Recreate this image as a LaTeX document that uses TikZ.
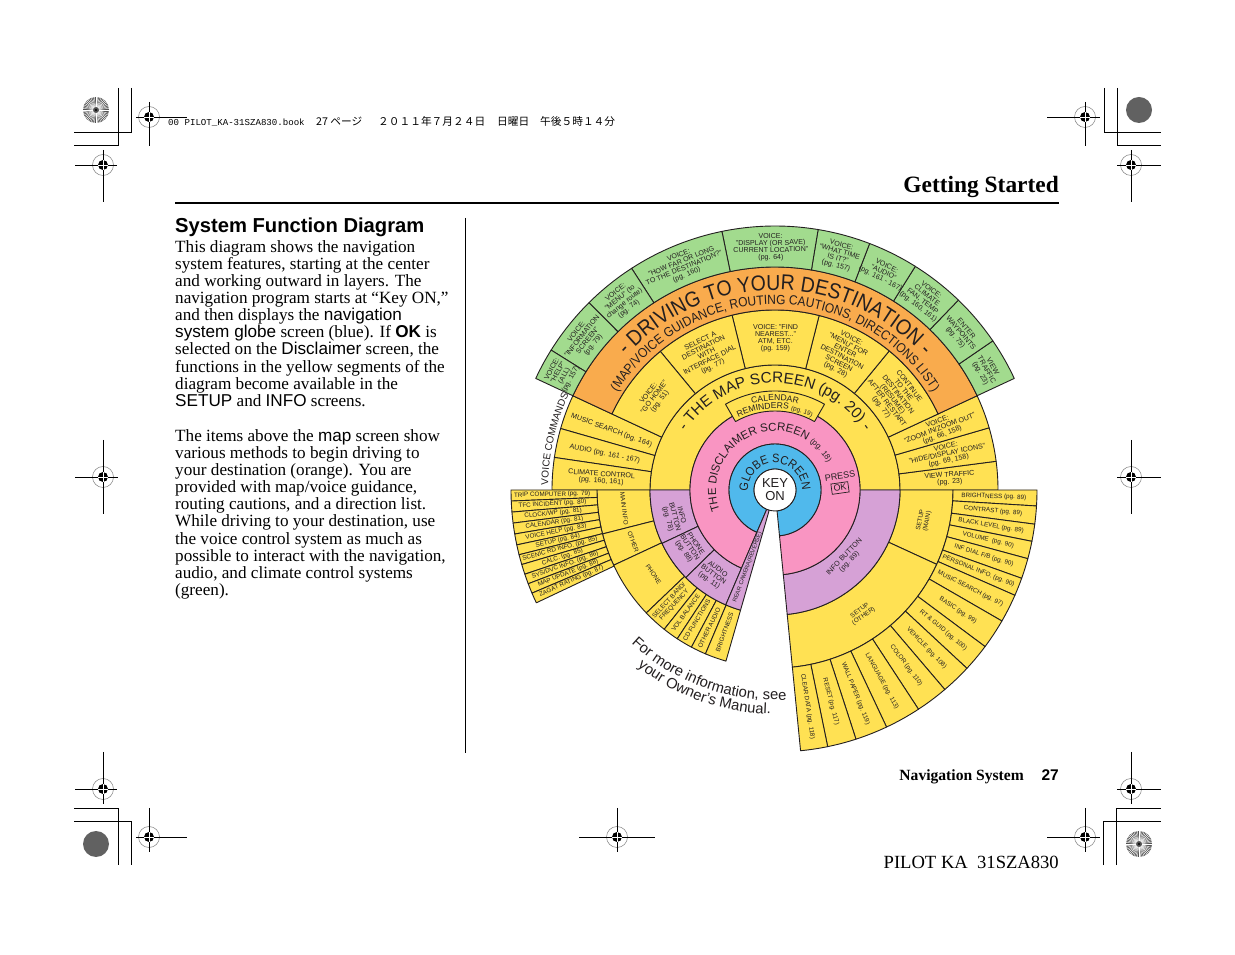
\documentclass[tikz,border=0pt]{standalone}
\usepackage{fontspec}
\setmainfont{Liberation Serif}
\setsansfont{Liberation Sans}
\setmonofont{Liberation Mono}
\newfontfamily\cjkfont{Noto Sans CJK JP}
\newfontfamily\condsans[FakeStretch=0.9]{Liberation Sans}
\usetikzlibrary{decorations.text}
\definecolor{ink}{HTML}{231F20}
\definecolor{yelseg}{HTML}{FFE153}
\definecolor{orgseg}{HTML}{F9AB4D}
\definecolor{grnseg}{HTML}{A2DB8E}
\definecolor{pnkseg}{HTML}{F995C2}
\definecolor{purseg}{HTML}{D6A1D6}
\definecolor{bluseg}{HTML}{50B9EC}
\newcommand{\fdrive}{\fontsize{21.6}{22}\selectfont\condsans\color{ink}}
\newcommand{\fguide}{\fontsize{13.3}{14}\selectfont\condsans\color{ink}}
\newcommand{\fmap}{\fontsize{15.3}{15}\selectfont\sffamily\color{ink}}
\newcommand{\fdisc}{\fontsize{11.5}{12}\selectfont\sffamily\color{ink}}
\newcommand{\fpage}{\fontsize{8}{8}\selectfont\sffamily\color{ink}}
\newcommand{\fglobe}{\fontsize{12.2}{13}\selectfont\condsans\color{ink}}
\newcommand{\fcal}{\fontsize{8.6}{9}\selectfont\sffamily\color{ink}}
\newcommand{\fcalpg}{\fontsize{6.4}{7}\selectfont\sffamily\color{ink}}
\newcommand{\fcmd}{\fontsize{10}{10}\selectfont\sffamily\color{ink}}
\newcommand{\fmore}{\fontsize{14.8}{15}\selectfont\sffamily\color{ink}}
\newcommand{\sfw}[1]{{\sffamily #1}}
\tikzset{
  seg/.style={draw=ink, line width=.9pt, line join=round},
  cell/.style={font=\fontsize{6.3}{6.9}\selectfont\sffamily, text=ink, align=center, inner sep=0pt},
  midcell/.style={font=\fontsize{7.1}{7}\selectfont\sffamily, text=ink, align=center, inner sep=0pt},
  arctext/.style={decorate, decoration={text along path, text align=center, text={#1}}},
  bodytext/.style={font=\fontsize{17.15}{17.15}\selectfont, text=black, align=left, inner sep=0pt},
  cropline/.style={draw=black, line width=.9pt}}
\begin{document}
\begin{tikzpicture}[x=1pt,y=1pt]
  \useasboundingbox (0,0) rectangle (1235,954);
  \fill[white] (0,0) rectangle (1235,954);
  \begin{scope}[shift={(775,464)}]
    \foreach \from/\to/\rin/\rout/\col in {
      0/180/85/125/yelseg, 155/164/125/223/yelseg, 164/171.6/125/223/yelseg, 171.6/180/125/223/yelseg,
      0/7.4/125/223/yelseg, 7.4/16.2/125/223/yelseg, 16.2/25/125/223/yelseg,
      25/50.6/125/180/yelseg, 50.6/75.8/125/180/yelseg, 75.8/103.8/125/180/yelseg,
      103.8/129.6/125/180/yelseg, 129.6/155/125/180/yelseg, 25/155/180/223/orgseg,
      25/34.4/223/264/grnseg, 34.4/46/223/264/grnseg, 46/57.9/223/264/grnseg, 57.9/69/223/264/grnseg,
      69/80.6/223/264/grnseg, 80.6/101.6/223/264/grnseg, 101.6/122.9/223/264/grnseg,
      122.9/134.8/223/264/grnseg, 134.8/148/223/264/grnseg, 148/155/223/264/grnseg,
      -24.7/0/125/178/yelseg, -84.4/-24.7/125/178/yelseg,
      180/194.3/125/178/yelseg, 194.3/205/125/178/yelseg, 205/223.7/125/178/yelseg,
      223.7/231.5/125/178/yelseg, 231.5/236.7/125/178/yelseg, 236.7/242/125/178/yelseg,
      242/247/125/178/yelseg, 247/254/125/178/yelseg,
      -84.4/0/85/125/purseg, 180/205.3/85/125/purseg, 205.3/224.5/85/125/purseg, 224.5/246.8/85/125/purseg,
      -84.4/246.8/46/85/pnkseg, -84.4/246.8/21/46/bluseg, 246.8/254/21/125/purseg}
      \filldraw[seg, fill=\col] (\from:\rin) arc[start angle=\from, end angle=\to, radius=\rin]
        -- (\to:\rout) arc[start angle=\to, end angle=\from, radius=\rout] -- cycle;
    \foreach \a [remember=\a as \b (initially 0)] in {-3.5,-7.5,-11.3,-15.2,-19.7,-23.7,-30,-36.7,-42.9,-49.6,-56.8,-64.8,-72,-78.4,-84.4}
      \filldraw[seg, fill=yelseg] (\b:178) arc[start angle=\b, end angle=\a, radius=178]
        -- (\a:262) arc[start angle=\a, end angle=\b, radius=262] -- cycle;
    \foreach \a [remember=\a as \b (initially 180)] in {182.4,184.8,187.2,189.6,192,194.2,196.4,198.6,200.8,203,205.3}
      \filldraw[seg, fill=yelseg] (\b:178) arc[start angle=\b, end angle=\a, radius=178]
        -- (\a:264) arc[start angle=\a, end angle=\b, radius=264] -- cycle;
    \filldraw[seg, fill=yelseg] (120:79) arc[start angle=120, end angle=60, radius=79]
      -- (60:99) arc[start angle=60, end angle=120, radius=99] -- cycle;

    \node[circle, draw=ink, line width=.9pt, fill=white, minimum size=42pt, inner sep=0pt, align=center,
      text=ink, font=\fontsize{13}{13}\selectfont\sffamily] (keyon) at (0,0) {KEY\\ON};

    \path[arctext={|\fdrive|- DRIVING TO YOUR DESTINATION -}] (160:200) arc[start angle=160, end angle=20, radius=200];
    \path[arctext={|\fguide|(MAP/VOICE GUIDANCE, ROUTING CAUTIONS, DIRECTIONS LIST)}] (175:185.5) arc[start angle=175, end angle=5, radius=185.5];
    \path[arctext={|\fmap|- THE MAP SCREEN (pg. 20) -}] (170:107) arc[start angle=170, end angle=10, radius=107];
    \path[arctext={|\fdisc|THE DISCLAIMER SCREEN |\fpage|(pg. 18)}] (217:59) arc[start angle=217, end angle=11, radius=59];
    \path[arctext={|\fglobe|GLOBE SCREEN}] (190:27) arc[start angle=190, end angle=-8, radius=27];
    \path[arctext={|\fcal|CALENDAR}] (120:89.5) arc[start angle=120, end angle=60, radius=89.5];
    \path[arctext={|\fcal|REMINDERS |\fcalpg|(pg. 19)}] (125:81.5) arc[start angle=125, end angle=55, radius=81.5];
    \path[arctext={|\fcmd|VOICE COMMANDS}] (182:227) arc[start angle=182, end angle=152, radius=227];
    \path[arctext={|\fmore|For more information, see}] (224:210) arc[start angle=224, end angle=276, radius=210];
    \path[arctext={|\fmore|your Owner's Manual.}] (226:224) arc[start angle=226, end angle=275, radius=224];

    \node[midcell, font=\fontsize{9}{9}\selectfont\sffamily, rotate=8] (press) at (65,14) {PRESS};
    \node[midcell, font=\fontsize{9}{9}\selectfont\sffamily, rotate=8, draw=ink, line width=.7pt, inner sep=2pt] (okbtn) at (65,2) {OK};

    \foreach \ang/\txt [count=\n] in {
      151.5/{VOICE:\\"HELP"\\(ALL)\\(pg. 157)},
      141.4/{VOICE:\\"INFORMATION\\SCREEN"\\(pg. 79)},
      128.9/{VOICE:\\"MENU" (to\\change route)\\(pg. 74)},
      112.3/{VOICE:\\"HOW FAR OR LONG\\TO THE DESTINATION?"\\(pg. 160)},
      91/{VOICE:\\"DISPLAY (OR SAVE)\\CURRENT LOCATION"\\(pg. 64)},
      74.8/{VOICE:\\"WHAT TIME\\IS IT?"\\(pg. 157)},
      63.5/{VOICE:\\"AUDIO"\\(pg. 161 - 167)},
      52/{VOICE:\\CLIMATE\\FAN, TEMP\\(pg. 160, 161)},
      40.2/{ENTER\\WAYPOINTS\\(pg. 75)},
      29.6/{VIEW\\TRAFFIC\\(pg. 23)}}
      \node[midcell, rotate=\ang-90] (grn\n) at (\ang:243) {\txt};

    \foreach \ang/\txt [count=\n] in {
      142.5/{VOICE:\\"GO HOME"\\(pg. 51)},
      116.7/{SELECT A\\DESTINATION\\WITH\\INTERFACE DIAL\\(pg. 77)},
      89.8/{VOICE: "FIND\\NEAREST..."\\ATM, ETC.\\(pg. 159)},
      63.2/{VOICE:\\"MENU" FOR\\ENTER\\DESTINATION\\SCREEN\\(pg. 28)},
      37.8/{CONTINUE\\TO THE\\DESTINATION\\(RESUME)\\AFTER RESTART\\(pg. 77)}}
      \node[midcell, rotate=\ang-90] (dest\n) at (\ang:152) {\txt};

    \foreach \ang/\txt [count=\n] in {
      160/{MUSIC SEARCH (pg. 164)},
      168/{AUDIO (pg. 161 - 167)},
      176/{CLIMATE CONTROL\\(pg. 160, 161)}}
      \node[midcell, rotate=\ang-180] (lfeat\n) at (\ang:174) {\txt};

    \foreach \ang/\rad/\txt [count=\n] in {
      20.4/176/{VOICE:\\"ZOOM IN/ZOOM OUT"\\(pg. 66, 158)},
      11.8/176/{VOICE:\\"HIDE/DISPLAY ICONS"\\(pg. 69, 158)},
      3.7/175/{VIEW TRAFFIC\\(pg. 23)}}
      \node[midcell, rotate=\ang] (rfeat\n) at (\ang:\rad) {\txt};

    \foreach \ang/\txt [count=\n] in {
      -1.75/{BRIGHTNESS (pg. 89)}, -5.5/{CONTRAST (pg. 89)}, -9.4/{BLACK LEVEL (pg. 89)},
      -13.2/{VOLUME\ \ (pg. 90)}, -17.4/{INF DIAL F/B (pg. 90)}, -21.7/{PERSONAL INFO. (pg. 90)},
      -26.8/{MUSIC SEARCH (pg. 97)}, -33.3/{BASIC (pg. 99)}, -39.8/{RT \& GUID (pg. 100)},
      -46.2/{VEHICLE (pg. 108)}, -53.2/{COLOR (pg. 110)}, -60.8/{LANGUAGE (pg. 113)},
      -68.4/{WALL PAPER (pg. 119)}, -75.2/{RESET (pg. 117)}, -81.4/{CLEAR DATA (pg. 118)}}
      \node[cell, rotate=\ang] (setup\n) at (\ang:219) {\txt};

    \foreach \ang/\txt [count=\n] in {
      181.2/{TRIP COMPUTER (pg. 79)}, 183.6/{TFC INCIDENT (pg. 80)}, 186/{CLOCK/WP (pg. 81)},
      188.4/{CALENDAR (pg. 81)}, 190.8/{VOICE HELP (pg. 83)}, 193.1/{SETUP (pg. 84)},
      195.3/{SCENIC RD INFO. (pg. 85)}, 197.5/{CALC. (pg. 85)}, 199.7/{SYS/DVC INFO. (pg. 86)},
      201.9/{MAP UPDATE (pg. 88)}, 204.1/{ZAGAT RATING (pg. 87)}}
      \node[cell, rotate=\ang-180] (info\n) at (\ang:223) {\txt};

    \foreach \ang/\rad/\rot/\txt [count=\n] in {
      187/152/-83/{MAIN INFO}, 200/151/-70/{OTHER}, 214.8/148/-55/{PHONE},
      227.5/153/47/{SELECT BAND/\\FREQUENCY}, 234/152/54/{VOL BALANCE}, 239/152/59/{CD FUNCTIONS},
      244.5/153/64/{OTHER AUDIO}, 250.5/151/70/{BRIGHTNESS},
      -11.6/152/78.4/{SETUP\\(MAIN)}, -54.9/151/35/{SETUP\\(OTHER)}}
      \node[cell, rotate=\rot] (ring\n) at (\ang:\rad) {\txt};

    \foreach \ang/\rad/\rot/\txt [count=\n] in {
      -44/100/46/{INFO BUTTON\\(pg. 89)},
      195/104/-75/{INFO\\BUTTON\\(pg. 78)}, 214/103/-56/{PHONE\\BUTTON\\(pg. 88)},
      234/105/-36/{AUDIO\\BUTTON\\(pg. 11)}}
      \node[midcell, rotate=\rot] (btn\n) at (\ang:\rad) {\txt};
    \node[cell, font=\fontsize{5.8}{6}\selectfont\sffamily, rotate=70] (rearcam) at (250.4:82) {REAR CAMERA(REVERSE)};
  \end{scope}

  \node[anchor=base west, inner sep=0pt, font=\fontsize{20.2}{21}\selectfont\sffamily\bfseries] (sectitle) at (175,721.5) {System Function Diagram};
  \node[bodytext, anchor=north west] (intro) at (175,714) {This diagram shows the navigation\\
    system features, starting at the center\\
    and working outward in layers. The\\
    navigation program starts at “Key ON,”\\
    and then displays the \sfw{navigation}\\
    \sfw{system globe} screen (blue). If \sfw{\bfseries OK} is\\
    selected on the \sfw{Disclaimer} screen, the\\
    functions in the yellow segments of the\\
    diagram become available in the\\
    \sfw{SETUP} and \sfw{INFO} screens.\\[17.6pt]
    The items above the \sfw{map} screen show\\
    various methods to begin driving to\\
    your destination (orange). You are\\
    provided with map/voice guidance,\\
    routing cautions, and a direction list.\\
    While driving to your destination, use\\
    the voice control system as much as\\
    possible to interact with the navigation,\\
    audio, and climate control systems\\
    (green).};

  \coordinate (rulel) at (175,751);
  \coordinate (ruler) at (1059,751);
  \coordinate (sept) at (465.5,736);
  \coordinate (sepb) at (465.5,201);
  \draw[black, line width=2pt] (rulel) -- (ruler);
  \draw[black, line width=1pt] (sept) -- (sepb);

  \node[anchor=base east, inner sep=0pt, font=\fontsize{23.4}{25}\selectfont\bfseries] (chapter) at (1059,761) {Getting Started};
  \node[anchor=base east, inner sep=0pt, font=\fontsize{15.6}{17}\selectfont\bfseries] (navsys) at (1024,173) {Navigation System};
  \node[anchor=base east, inner sep=0pt, font=\fontsize{15.5}{17}\selectfont\sffamily\bfseries] (pageno) at (1059,173) {27};
  \node[anchor=base east, inner sep=0pt, font=\fontsize{18.6}{19}\selectfont] (bookid) at (1059,86) {PILOT KA\ \ 31SZA830};

  \node[anchor=base west, inner sep=0pt, font=\fontsize{9.1}{10}\selectfont\ttfamily] (bookname) at (168,828.5) {00 PILOT\_KA-31SZA830.book};
  \foreach \xpos/\txt [count=\n] in {316/{27 ページ}, 378/{２０１１年７月２４日}, 497/{日曜日}, 540/{午後５時１４分}}
    \node[anchor=base west, inner sep=0pt, font=\fontsize{10.7}{11}\cjkfont] (bookdate\n) at (\xpos,828.5) {\txt};

  \foreach \mx/\my/\ml/\mr/\mu/\md in {
    149/837/13/38/15/29, 103/789/28/14/15/37, 1085/837/38/15/15/29, 1131/789/14/30/15/37,
    103/477/28/15/37/37, 1131/477/14/30/37/37, 103/165/28/14/37/15, 1131/165/14/30/37/15,
    149/117/13/38/29/15, 617/117/38/38/29/15, 1085/117/38/15/29/15}{
    \draw[gray, line width=.5pt] (\mx,\my) circle[radius=10.5];
    \draw[cropline] (\mx-\ml,\my) -- (\mx+\mr,\my);
    \draw[cropline] (\mx,\my+\mu) -- (\mx,\my-\md);
    \fill[black] (\mx,\my) circle[radius=5];
    \draw[white, line width=.5pt] (\mx-5,\my) -- (\mx+5,\my) (\mx,\my-5) -- (\mx,\my+5);
  }

  \draw[cropline] (118.5,866) -- (118.5,809) -- (74,809);
  \draw[cropline] (131.5,866) -- (131.5,822) -- (74,822);
  \draw[cropline] (1104,866) -- (1104,822) -- (1161,822);
  \draw[cropline] (1117,866) -- (1117,809) -- (1161,809);
  \draw[cropline] (74,146) -- (118.5,146) -- (118.5,89);
  \draw[cropline] (74,133) -- (131.5,133) -- (131.5,89);
  \draw[cropline] (1116,89) -- (1116,146) -- (1161,146);
  \draw[cropline] (1103,89) -- (1103,133) -- (1161,133);

  \foreach \cx/\cy in {1139/844, 96/110}
    \fill[black!62] (\cx,\cy) circle[radius=13];
  \foreach \cx/\cy in {96/844, 1139/110}{
    \fill[black!68] (\cx,\cy) circle[radius=13];
    \foreach \t in {0,7.5,...,352}
      \draw[white, line width=.45pt] (\cx,\cy) ++(\t:3) -- ++(\t:10);
    \fill[black] (\cx,\cy) circle[radius=1.2];
  }
\end{tikzpicture}
\end{document}
